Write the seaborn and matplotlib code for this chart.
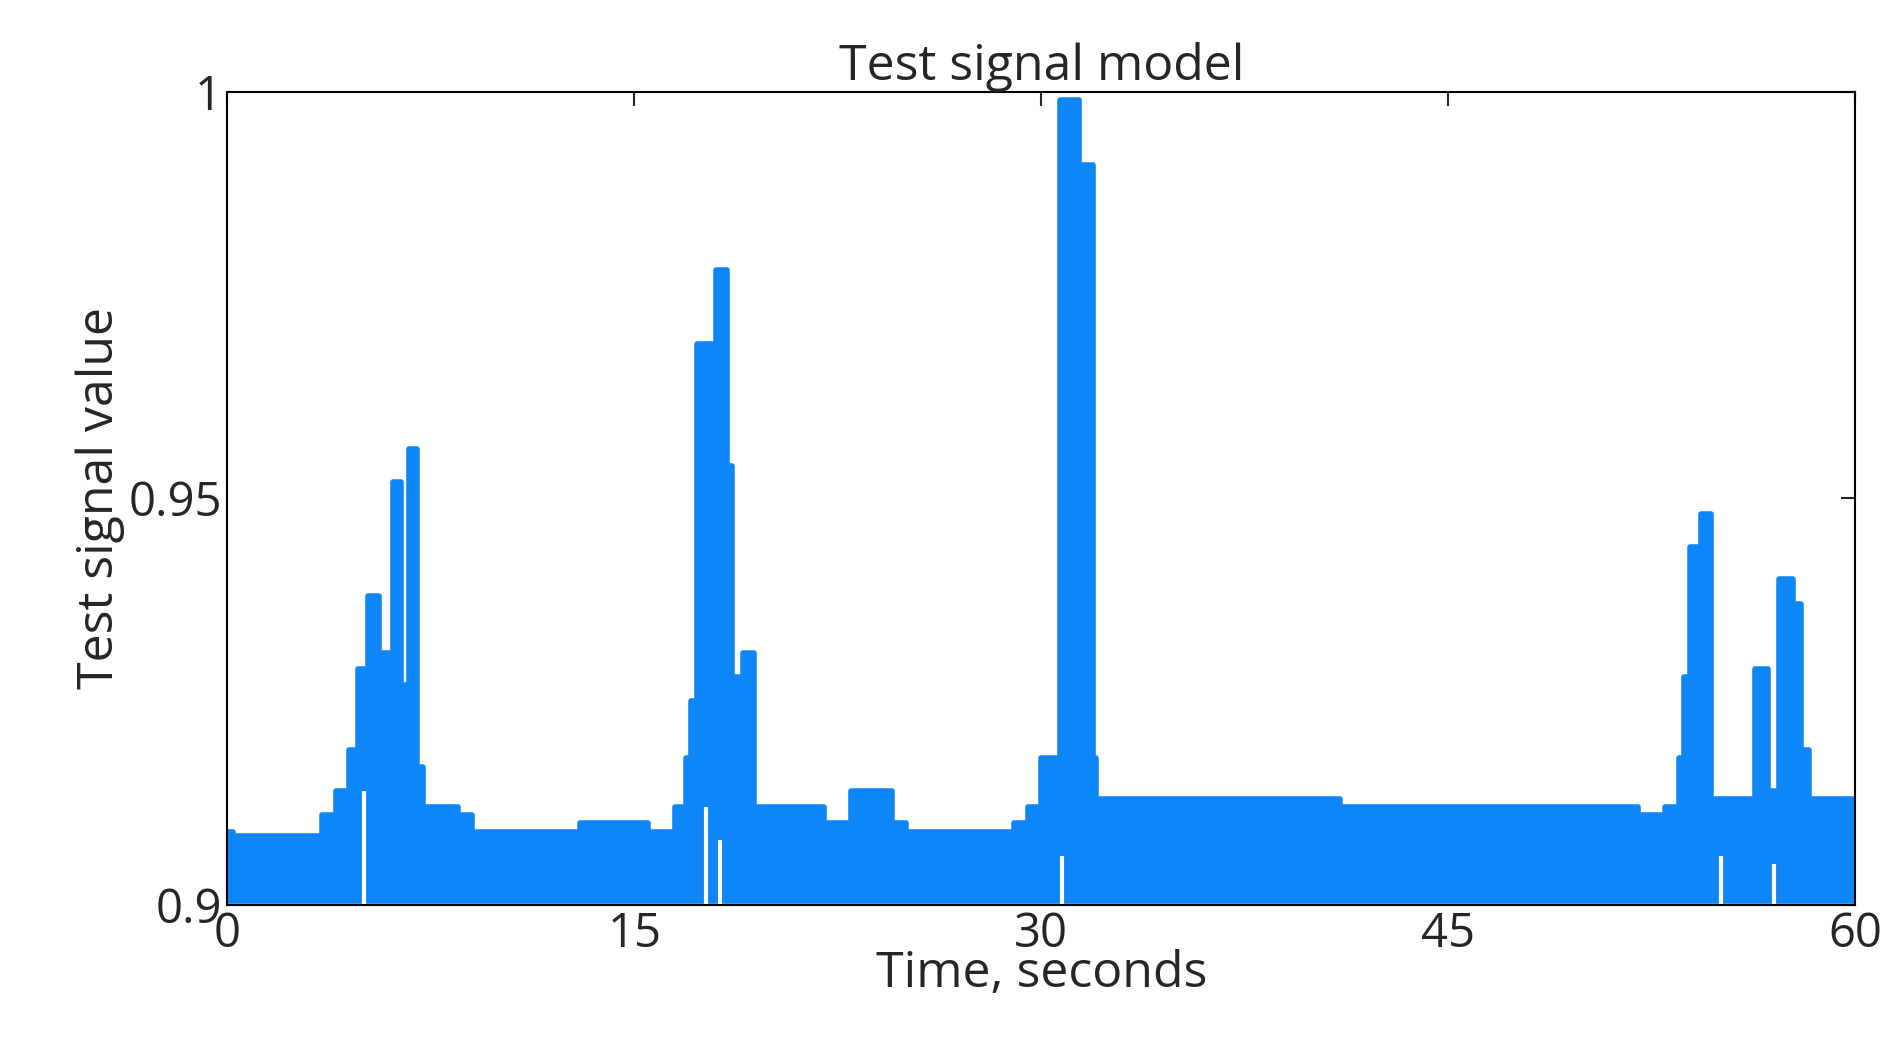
import matplotlib
matplotlib.use("Agg")
import matplotlib.pyplot as plt
import seaborn as sns
import pandas as pd

sns.set_style('white')
plt.rcParams['font.family'] = ['Open Sans', 'DejaVu Sans']

# envelope of the dense test signal
time_s = [0, 0.2, 3.0, 3.5, 4.0, 4.5, 4.8, 5.2, 5.6, 6.1, 6.4, 6.7, 7.0, 7.2, 8.5, 9.0,
          12.0, 13.0, 15.5, 16.5, 16.9, 17.1, 17.3, 17.9, 18.0, 18.4, 18.6, 18.8, 19.0, 19.4,
          21.0, 22.0, 23.0, 24.5, 25.0, 29.0, 29.5, 30.0, 30.7, 31.4, 31.9, 32.0, 32.5,
          40.0, 41.0, 52.0, 53.0, 53.5, 53.7, 53.9, 54.3, 54.7, 56.3, 56.8, 56.9, 57.2,
          57.7, 58.0, 58.3, 60.0]
upper = [0.909, 0.9085, 0.9085, 0.911, 0.914, 0.919, 0.929, 0.938, 0.931, 0.952, 0.927,
         0.956, 0.917, 0.912, 0.911, 0.909,
         0.909, 0.910, 0.909, 0.912, 0.918, 0.925, 0.969, 0.966, 0.978, 0.954, 0.928, 0.928,
         0.931, 0.912,
         0.912, 0.910, 0.914, 0.910, 0.909, 0.910, 0.912, 0.918, 0.999, 0.991,
         0.918, 0.913, 0.913,
         0.913, 0.912, 0.911, 0.912, 0.918, 0.928, 0.944, 0.948, 0.913, 0.929, 0.914, 0.914,
         0.940, 0.937, 0.919, 0.913, 0.913]
floor_value = 0.9005
# narrow spots where the signal lifts off the floor (white vertical gaps)
gap_time = [5.05, 17.65, 18.15, 30.75, 55.05, 57.0]
gap_top = [0.914, 0.912, 0.908, 0.906, 0.906, 0.905]

up_df = pd.DataFrame({'t': time_s, 'v': upper})

color = '#0F86F7'
fig = plt.figure(figsize=(18.95, 10.4), dpi=100)
ax = fig.add_axes([0.12, 0.13, 0.859, 0.782])
ax.fill_between(up_df['t'], floor_value, up_df['v'], color=color, lw=0, step='post')
sns.lineplot(data=up_df, x='t', y='v', ax=ax, color=color, lw=4, drawstyle='steps-post')
ax.axhline(floor_value, color=color, lw=4)
ax.vlines(gap_time, 0.899, gap_top, color='white', lw=3)

ax.set_xlim(0, 60)
ax.set_ylim(0.9, 1.0)
ax.set_xticks([0, 15, 30, 45, 60])
ax.set_yticks([0.9, 0.95, 1.0])
ax.set_yticklabels(['0.9', '0.95', '1'])
ax.tick_params(direction='in', length=10, width=1.5, labelsize=34, top=True, right=True,
               pad=4)
for s in ax.spines.values():
    s.set_color('black')
    s.set_linewidth(1.5)
ax.set_xlabel('Time, seconds', fontsize=36, labelpad=-6)
ax.set_ylabel('Test signal value', fontsize=36, labelpad=2)
ax.set_title('Test signal model', fontsize=36, pad=8)
fig.savefig('out.png', dpi=100)
